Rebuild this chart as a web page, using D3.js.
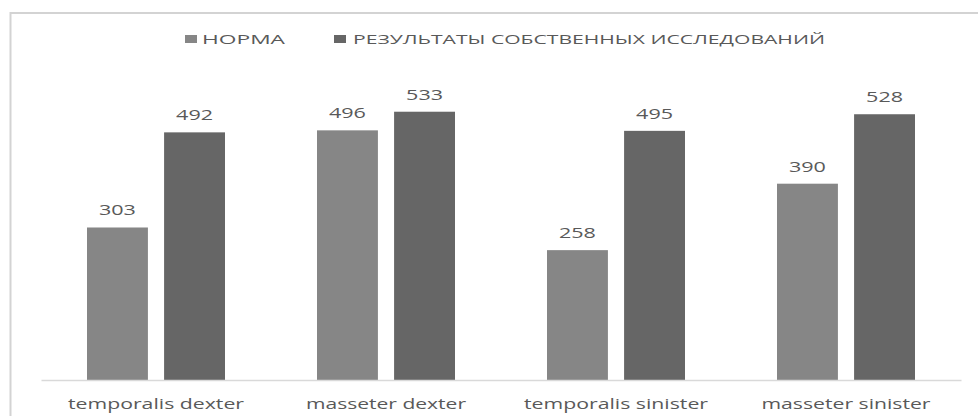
<!DOCTYPE html>
<html>
<head>
<meta charset="utf-8">
<script src="https://cdn.jsdelivr.net/npm/d3@7"></script>
<style>
  html, body { margin: 0; padding: 0; background: #fff; }
  svg { display: block; }
  text { font-family: "Open Sans", "Liberation Sans", sans-serif; fill: #595959; }
</style>
</head>
<body>
<svg id="chart" width="978" height="416"></svg>
<script>
// Muscle groups along the x axis
const categories = ["temporalis dexter", "masseter dexter", "temporalis sinister", "masseter sinister"];
// Series names shown in the legend
const seriesNames = ["НОРМА", "РЕЗУЛЬТАТЫ СОБСТВЕННЫХ ИССЛЕДОВАНИЙ"];
// Values for each series, in category order
const normValues = [303, 496, 258, 390];
const ownValues = [492, 533, 495, 528];
const seriesColors = ["#868686", "#666666"];

const svg = d3.select("#chart");

// Outer frame of the chart area
svg.append("rect")
  .attr("x", 10.5).attr("y", 13)
  .attr("width", 1000).attr("height", 500)
  .attr("fill", "none")
  .attr("stroke", "#d3d3d3")
  .attr("stroke-width", 2);

const plot = { left: 41, right: 961, top: 78, bottom: 380 };

const x = d3.scaleBand()
  .domain(categories)
  .range([plot.left, plot.right])
  .paddingInner(0.4)
  .paddingOuter(0.2);

const xs = d3.scaleBand()
  .domain(d3.range(seriesNames.length))
  .range([0, x.bandwidth()])
  .paddingInner(0.21)
  .paddingOuter(0);

const y = d3.scaleLinear()
  .domain([0, 600])
  .range([plot.bottom, plot.top]);

const series = [normValues, ownValues];
const rows = categories.map((c, i) => ({ cat: c, vals: series.map(s => s[i]) }));

const groups = svg.append("g").selectAll("g")
  .data(rows)
  .join("g")
  .attr("transform", d => `translate(${x(d.cat)},0)`);

groups.selectAll("rect")
  .data(d => d.vals.map((v, k) => ({ v, k })))
  .join("rect")
  .attr("x", d => xs(d.k))
  .attr("y", d => y(d.v))
  .attr("width", xs.bandwidth())
  .attr("height", d => y(0) - y(d.v))
  .attr("fill", d => seriesColors[d.k]);

// Value labels above bars
groups.selectAll("text.val")
  .data(d => d.vals.map((v, k) => ({ v, k })))
  .join("text")
  .attr("class", "val")
  .attr("x", d => xs(d.k) + xs.bandwidth() / 2)
  .attr("y", d => y(d.v) - 12)
  .attr("text-anchor", "middle")
  .attr("font-size", 15)
  .attr("textLength", 37)
  .attr("lengthAdjust", "spacingAndGlyphs")
  .text(d => d.v);

// Category axis
const xAxis = svg.append("g")
  .attr("transform", `translate(0,${plot.bottom})`)
  .call(d3.axisBottom(x).tickSize(0).tickPadding(0));
xAxis.select(".domain").attr("stroke", "#d9d9d9").attr("stroke-width", 1.5);
const labelWidths = [176, 160, 184, 169];
xAxis.selectAll(".tick text")
  .attr("y", 0)
  .attr("dy", 0)
  .attr("transform", "translate(0,29)")
  .attr("font-size", 14)
  .attr("font-family", "Open Sans, Liberation Sans, sans-serif")
  .attr("fill", "#595959")
  .attr("textLength", (d, i) => labelWidths[i])
  .attr("lengthAdjust", "spacingAndGlyphs");

// Legend
const legendItems = [
  { name: seriesNames[0], sx: 185, tx: 202, tw: 83 },
  { name: seriesNames[1], sx: 334, tx: 353, tw: 472 }
];
const legend = svg.append("g");
legend.selectAll("rect")
  .data(legendItems)
  .join("rect")
  .attr("x", d => d.sx).attr("y", 35)
  .attr("width", 12).attr("height", 8)
  .attr("fill", (d, i) => seriesColors[i]);
legend.selectAll("text")
  .data(legendItems)
  .join("text")
  .attr("x", d => d.tx).attr("y", 44)
  .attr("font-size", 12.5)
  .attr("textLength", d => d.tw)
  .attr("lengthAdjust", "spacingAndGlyphs")
  .text(d => d.name);
</script>
</body>
</html>
